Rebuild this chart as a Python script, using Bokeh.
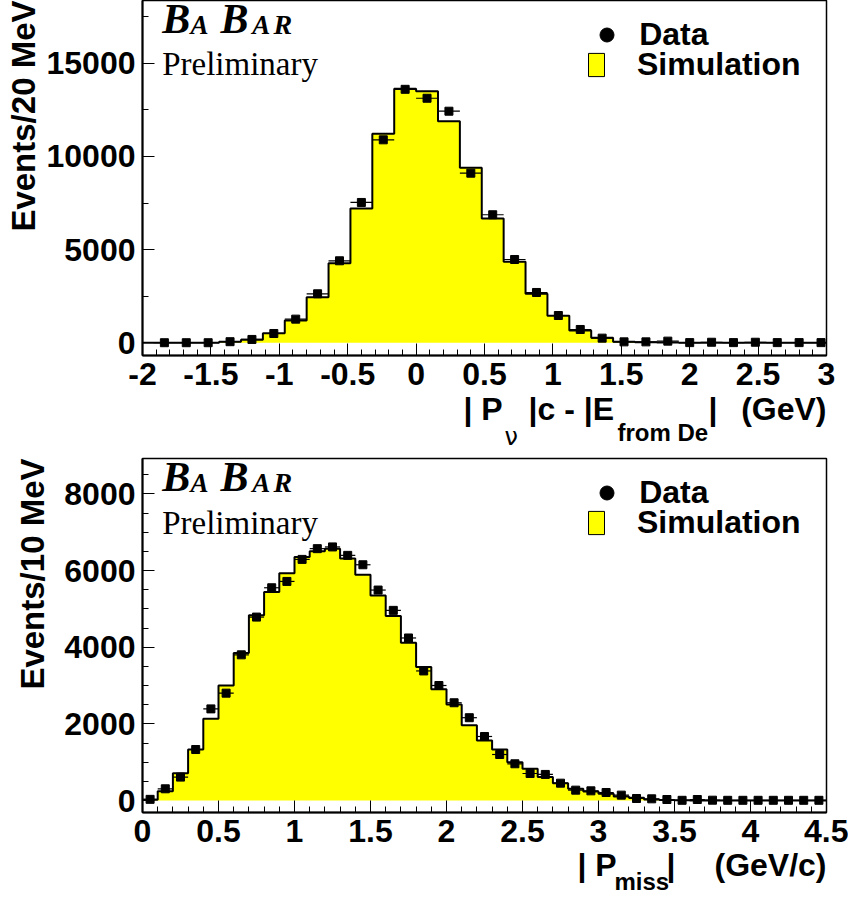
import numpy as np
from bokeh.plotting import figure
from bokeh.models import Range1d, FixedTicker, Label, Legend, LegendItem, Title
from bokeh.layouts import column
from bokeh.embed import file_html
from bokeh.resources import INLINE

# ---------------- data ----------------
# Top panel: |P_nu|c - |E_from De| (GeV)
top_bin_first_edge = -1.92
top_bin_width = 0.16
top_data = [5, 5, 5, 60, 180, 500, 1270, 2630, 4400, 7530, 10890, 13600, 13120, 12425,
            9100, 6870, 4470, 2700, 1465, 715, 250, 50, 50, 90, 10, 30, 10, 30, 10, 10, 10]
top_sim = [0, 0, 0, 50, 160, 515, 1196, 2450, 4270, 7205, 11210, 13627, 13500, 11890,
           9390, 6670, 4345, 2630, 1450, 660, 270, 60, 30, 10, 5, 0, 0, 0, 0, 0, 0]

# Bottom panel: |P_miss| (GeV/c)
bot_bin_first_edge = 0.0
bot_bin_width = 0.1
bot_data = [30, 305, 610, 1330, 2390, 2800, 3800, 4785, 5550, 5715, 6290, 6570, 6615, 6395,
            6150, 5490, 4960, 4240, 3380, 3000, 2550, 2160, 1670, 1200, 958, 705, 680, 452,
            270, 252, 209, 140, 52, 44, 26, 5, 26, 8, 5, 5, 5, 5, 5, 5, 5]
bot_sim = [20, 243, 713, 1330, 2130, 3000, 3850, 4830, 5440, 5930, 6350, 6500, 6570, 6310,
           5890, 5350, 4810, 4115, 3480, 2900, 2505, 1960, 1565, 1330, 1000, 827, 610, 452,
           305, 235, 175, 104, 70, 26, 15, 5, 0, 0, 0, 0, 0, 0, 0, 0, 0]

top_xticks = [-2, -1.5, -1, -0.5, 0, 0.5, 1, 1.5, 2, 2.5, 3]
top_xlabels = ["-2", "-1.5", "-1", "-0.5", "0", "0.5", "1", "1.5", "2", "2.5", "3"]
top_yticks = [0, 5000, 10000, 15000]
top_ylabels = ["0", "5000", "10000", "15000"]
bot_xticks = [0, 0.5, 1, 1.5, 2, 2.5, 3, 3.5, 4, 4.5]
bot_xlabels = ["0", "0.5", "1", "1.5", "2", "2.5", "3", "3.5", "4", "4.5"]
bot_yticks = [0, 2000, 4000, 6000, 8000]
bot_ylabels = ["0", "2000", "4000", "6000", "8000"]

YELLOW = "#ffff00"
SANS = "Liberation Sans"
SERIF = "Liberation Serif"
FRAME_LEFT = 142   # page x of the frame's left edge
FRAME_RIGHT = 826
TOTAL_W = 848


def lbl(text, x, y, size, font=SANS, style="bold", align="left", units="screen"):
    # y is the wanted baseline (measured from the bottom); bokeh draws the
    # "alphabetic" anchor about 0.4 em lower, so compensate.
    return Label(x=x, y=y + 0.4 * size, x_units=units, y_units=units, text=text, text_font=font,
                 text_font_style=style, text_font_size=f"{size}px", text_align=align,
                 text_baseline="alphabetic", text_color="black")


def strip(height, top_overlap):
    # text strip whose frame is aligned with the plots' frames; data x == page x
    s = figure(width=TOTAL_W, height=height, x_range=Range1d(FRAME_LEFT, FRAME_RIGHT),
               y_range=Range1d(0, height), output_backend="svg", toolbar_location=None,
               x_axis_type=None, y_axis_type=None, min_border_left=FRAME_LEFT,
               min_border_right=TOTAL_W - FRAME_RIGHT, min_border_top=0, min_border_bottom=0)
    s.outline_line_color = None
    s.background_fill_alpha = 0
    s.border_fill_alpha = 0
    s.margin = (-top_overlap, 0, 0, 0)
    return s


def panel(height, min_top, min_bottom, xr, yr, xticks, xlabels, xminor, yticks, ylabels,
          yminor, first_edge, width, data, sim, ytitle, ytitle_standoff):
    p = figure(width=TOTAL_W, height=height, x_range=Range1d(*xr), y_range=Range1d(*yr),
               output_backend="svg", toolbar_location=None,
               min_border_left=FRAME_LEFT, min_border_right=TOTAL_W - FRAME_RIGHT,
               min_border_top=min_top, min_border_bottom=min_bottom)
    p.background_fill_color = "white"
    p.border_fill_color = "white"
    p.outline_line_color = "black"
    p.outline_line_width = 1.5
    p.grid.visible = False

    n = len(sim)
    edges = first_edge + width * np.arange(n + 1)
    centers = edges[:-1] + width / 2
    sim = np.asarray(sim, dtype=float)
    data = np.asarray(data, dtype=float)

    xs = np.concatenate([[xr[0]], np.repeat(edges, 2), [xr[1]]])
    ys = np.concatenate([[0, 0], np.repeat(sim, 2), [0, 0]])
    p.patch(xs, ys, fill_color=YELLOW, line_color=None)
    p.line(xs, ys, line_color="black", line_width=2)

    err = np.sqrt(data)
    p.segment(x0=centers - width / 2, x1=centers + width / 2, y0=data, y1=data,
              line_color="black", line_width=1.2)
    p.segment(x0=centers, x1=centers, y0=data - err, y1=data + err,
              line_color="black", line_width=1.2)
    p.scatter(centers, data, marker="square", size=8, fill_color="black", line_color="black")

    for ax, ticks, labels, minor in ((p.xaxis[0], xticks, xlabels, xminor),
                                     (p.yaxis[0], yticks, ylabels, yminor)):
        ax.ticker = FixedTicker(ticks=ticks, minor_ticks=minor)
        ax.major_label_overrides = {t: l for t, l in zip(ticks, labels)}
        ax.major_tick_in = 12
        ax.major_tick_out = 0
        ax.minor_tick_in = 6
        ax.minor_tick_out = 0
        ax.major_tick_line_color = "black"
        ax.minor_tick_line_color = "black"
        ax.axis_line_color = "black"
        ax.axis_line_width = 2
        ax.major_label_text_font = SANS
        ax.major_label_text_font_style = "bold"
        ax.major_label_text_font_size = "32px"
        ax.major_label_text_color = "black"
    p.xaxis[0].major_label_standoff = 7
    p.yaxis[0].major_label_standoff = 7

    # y-axis title, right-aligned to the top of the frame (ROOT style)
    p.add_layout(Title(text=ytitle, align="right", text_font=SANS, text_font_style="bold",
                       text_font_size="33px", text_color="black", standoff=ytitle_standoff),
                 "left")

    # dummy renderers used only for the legend glyphs
    dot = p.scatter([centers[0]], [0], marker="circle", fill_color="black", line_color="black",
                    visible=False)
    box = p.quad(left=[edges[0]], right=[edges[1]], bottom=[0], top=[0], fill_color=YELLOW,
                 line_color="black", line_width=1, visible=False)
    return p, dot, box


def decorate(p, dot, box, fb, dy):
    def fx(X):
        return X - FRAME_LEFT

    def fy(Y):
        return fb - (Y + dy)

    common = dict(padding=0, margin=0, spacing=0, border_line_alpha=0,
                  background_fill_alpha=0, label_text_font=SANS,
                  label_text_font_style="bold", label_text_font_size="32px",
                  label_text_color="black")
    l1 = Legend(items=[LegendItem(label="Data", renderers=[dot])],
                location=(fx(589.2), fy(16.8 + 36)),
                glyph_width=35, glyph_height=35, label_standoff=15, label_height=35, **common)
    l2 = Legend(items=[LegendItem(label="Simulation", renderers=[box])],
                location=(fx(586), fy(47 + 36)),
                glyph_width=20, glyph_height=29, label_standoff=31, label_height=29, **common)
    p.add_layout(l1)
    p.add_layout(l2)

    bi = "bold italic"
    p.add_layout(lbl("B", fx(161.7), fy(35), 42, font=SERIF, style=bi))
    p.add_layout(lbl("A", fx(190), fy(35), 27, font=SERIF, style=bi))
    p.add_layout(lbl("B", fx(220), fy(35), 42, font=SERIF, style=bi))
    p.add_layout(lbl("A", fx(251.7), fy(35), 27, font=SERIF, style=bi))
    p.add_layout(lbl("R", fx(273), fy(35), 28, font=SERIF, style=bi))
    p.add_layout(lbl("Preliminary", fx(161.7), fy(77), 33, font=SERIF, style="normal"))


top_minor_x = list(np.round(np.arange(-2.0, 3.0001, 0.1), 2))
top_minor_y = list(range(-2500, 20001, 2500))
bot_minor_x = list(np.round(np.arange(0.0, 4.5001, 0.1), 2))
bot_minor_y = list(range(0, 9001, 500))

# ---- top panel: frame page y 0..355, zero at 342.3, 53.65 counts / px
H1 = 403
p1, dot1, box1 = panel(H1, 0, H1 - 355, (-2, 3), (-681, 18365), top_xticks, top_xlabels,
                       top_minor_x, top_yticks, top_ylabels, top_minor_y,
                       top_bin_first_edge, top_bin_width, top_data, top_sim,
                       "Events/20 MeV", 3)
decorate(p1, dot1, box1, 355, 0)

OV1 = 12
XS1_H = 61
xs1 = strip(XS1_H, OV1)
B1 = H1 - OV1 + XS1_H  # page y of strip bottom
for text, X, Y, size, font, style, align in [
        ("| P", 463, 421, 32, SANS, "bold", "left"),
        ("\u03bd", 504, 446, 24, "DejaVu Sans", "normal", "left"),
        ("|c - |E", 528, 421, 32, SANS, "bold", "left"),
        ("from De", 617, 442, 24, SANS, "bold", "left"),
        ("|", 708, 421, 32, SANS, "bold", "left"),
        ("(GeV)", 826, 421, 32, SANS, "bold", "right")]:
    xs1.add_layout(lbl(text, X, B1 - Y, size, font=font, style=style, align=align, units="data"))

# ---- bottom panel: frame page y 458..812, zero at 800, 26.11 counts / px
P2_TOP = B1
H2 = 408
p2, dot2, box2 = panel(H2, 458 - P2_TOP, P2_TOP + H2 - 812, (0, 4.5), (-313, 8922),
                       bot_xticks, bot_xlabels, bot_minor_x, bot_yticks, bot_ylabels, bot_minor_y,
                       bot_bin_first_edge, bot_bin_width, bot_data, bot_sim,
                       "Events/10 MeV", 21)
decorate(p2, dot2, box2, 812, 458.3)

OV2 = 14
XS2_TOP = P2_TOP + H2 - OV2
XS2_H = 898 - XS2_TOP
xs2 = strip(XS2_H, OV2)
B2 = XS2_TOP + XS2_H
for text, X, Y, size, align in [
        ("| P", 577, 877, 32, "left"),
        ("miss", 614, 891, 24, "left"),
        ("|", 666, 877, 32, "left"),
        ("(GeV/c)", 826, 877, 32, "right")]:
    xs2.add_layout(lbl(text, X, B2 - Y, size, align=align, units="data"))

layout = column(p1, xs1, p2, xs2, spacing=0)
open("out.html", "w").write(file_html(layout, INLINE))
